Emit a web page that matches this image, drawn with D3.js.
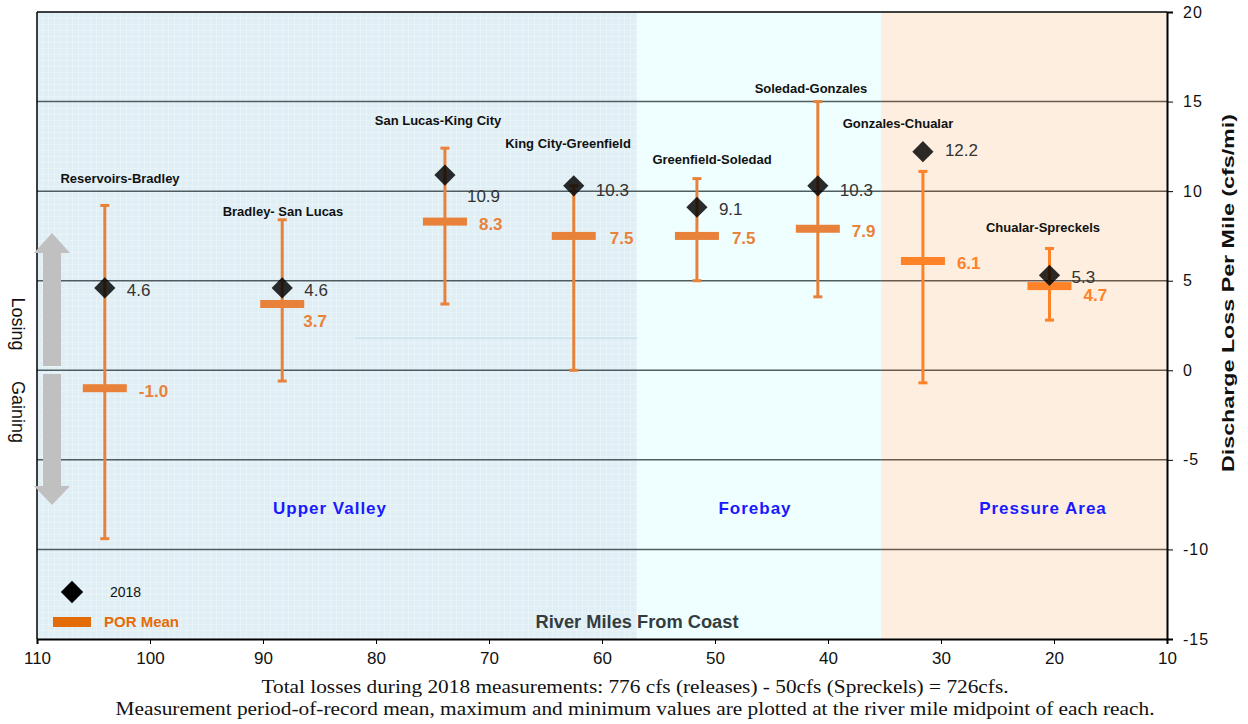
<!DOCTYPE html>
<html lang="en">
<head>
<meta charset="utf-8">
<script src="https://cdn.jsdelivr.net/npm/d3@7"></script>
<style>
  body{ margin:0; background:#fff; }
  svg{ display:block; }
  text{ font-family: Arial, "Liberation Sans", sans-serif; }
</style>
</head>
<body>
<svg id="chart"></svg>
<script>
// reaches, midpoints in river miles
var reaches = ["Reservoirs-Bradley","Bradley- San Lucas","San Lucas-King City","King City-Greenfield",
               "Greenfield-Soledad","Soledad-Gonzales","Gonzales-Chualar","Chualar-Spreckels"];
var riverMile = [104.0, 88.3, 73.9, 62.5, 51.6, 40.9, 31.6, 20.4];
var val2018 = [4.6, 4.6, 10.9, 10.3, 9.1, 10.3, 12.2, 5.3];
var porMean = [-1.0, 3.7, 8.3, 7.5, 7.5, 7.9, 6.1, 4.7];
var porMax  = [9.2, 8.4, 12.4, 10.3, 10.7, 15.0, 11.1, 6.8];
var porMin  = [-9.4, -0.6, 3.7, 0.0, 5.0, 4.1, -0.7, 2.8];

var regionNames = ["Upper Valley","Forebay","Pressure Area"];
var regionStart = [110, 56.9, 35.3];
var regionEnd   = [56.9, 35.3, 10];

var xTicks = [110,100,90,80,70,60,50,40,30,20,10];
var yTicks = [20,15,10,5,0,-5,-10,-15];

// label layout (pixels)
var nameX = [120, 283, 438, 568, 712, 811, 898, 1043];
var nameY = [178, 211, 120, 143, 159, 88, 123, 227];
var v18dy = [2, 2, 21, 4, 2, 4, -2, 2];
var meanDx = [34, 21, 34, 36, 35, 34, 34, 34];
var meanDy = [3, 17, 2, 2, 2, 2, 2, 9];

var W = 1248, H = 724;
var svg = d3.select('#chart').attr('width', W).attr('height', H);

var x = d3.scaleLinear().domain([110,10]).range([37,1167]);
var y = d3.scaleLinear().domain([-15,20]).range([639,12]);

var regionFill = ["#e0eff5","#effefe","#fdeee0"];
var orange = ["#e8823a","#e8823a","#fd8228"];
var gridCol = ["#4f5d62","#4f5d62","#6b5a4f"];
function regionOf(m){
  for(var i=0;i<regionStart.length;i++){ if(m<=regionStart[i] && m>regionEnd[i]) return i; }
  return 0;
}

// texture
var defs = svg.append('defs');
var pat = defs.append('pattern').attr('id','tex').attr('width',6).attr('height',6)
  .attr('patternUnits','userSpaceOnUse');
pat.append('path').attr('d','M0 0.5H6M0.5 0V6').attr('stroke','#ffffff').attr('stroke-opacity',0.25).attr('stroke-width',1);

// backgrounds
regionNames.forEach(function(r,i){
  svg.append('rect')
    .attr('x', x(regionStart[i])).attr('y', y(20))
    .attr('width', x(regionEnd[i]) - x(regionStart[i]))
    .attr('height', y(-15) - y(20))
    .attr('fill', regionFill[i]);
});
svg.append('rect').attr('x', x(110)).attr('y', y(20))
  .attr('width', x(56.9)-x(110)).attr('height', y(-15)-y(20)).attr('fill','url(#tex)');

// faint line in upper valley
svg.append('line').attr('x1',355).attr('x2',x(56.9)).attr('y1',y(1.8)).attr('y2',y(1.8))
  .attr('stroke','#c6e0ea').attr('stroke-width',1.2);

// gridlines
yTicks.filter(function(t){ return t>-15 && t<20; }).forEach(function(t){
  regionNames.forEach(function(r,i){
    svg.append('line')
      .attr('x1', x(regionStart[i])).attr('x2', x(regionEnd[i]))
      .attr('y1', y(t)).attr('y2', y(t))
      .attr('stroke', gridCol[i]).attr('stroke-width', 1.5);
  });
});

// frame: left and top
svg.append('line').attr('x1',x(110)).attr('x2',x(110)).attr('y1',y(20)).attr('y2',y(-15))
  .attr('stroke','#000').attr('stroke-width',1.5);
svg.append('line').attr('x1',x(110)).attr('x2',x(10)).attr('y1',y(20)).attr('y2',y(20))
  .attr('stroke','#000').attr('stroke-width',1.5);

// axes
var xAxis = svg.append('g').attr('transform','translate(0,'+y(-15)+')')
  .call(d3.axisBottom(x).tickValues(xTicks).tickSize(5).tickPadding(8).tickFormat(d3.format('d')));
xAxis.select('.domain').attr('stroke','#000').attr('stroke-width',2);
xAxis.selectAll('text').attr('font-size',17).attr('fill','#111');

var yAxis = svg.append('g').attr('transform','translate('+x(10)+',0)')
  .call(d3.axisRight(y).tickValues(yTicks).tickSize(6).tickPadding(10)
    .tickFormat(function(d){ return String(d); }));
yAxis.select('.domain').attr('stroke','#000').attr('stroke-width',2);
yAxis.selectAll('text').attr('font-size',16).attr('fill','#111').attr('letter-spacing',1);

svg.append('text')
  .attr('transform','translate(1234,293) rotate(-90)')
  .attr('text-anchor','middle')
  .attr('font-size',16).attr('font-weight','bold').attr('fill','#111')
  .attr('textLength',358).attr('lengthAdjust','spacingAndGlyphs')
  .text('Discharge Loss Per Mile (cfs/mi)');

// region labels
var regionLabelX = [330, 755, 1043];
regionNames.forEach(function(r,i){
  svg.append('text').attr('x', regionLabelX[i]).attr('y', 514)
    .attr('text-anchor','middle').attr('font-size',17).attr('font-weight','bold')
    .attr('fill','#1a1aff').attr('letter-spacing',1).text(r);
});

svg.append('text').attr('x',637).attr('y',628).attr('text-anchor','middle')
  .attr('font-size',18).attr('font-weight','bold').attr('fill','#333c40')
  .attr('textLength',203).attr('lengthAdjust','spacingAndGlyphs')
  .text('River Miles From Coast');

// losing / gaining arrows
var arrowX = 52;
svg.append('path')
  .attr('d','M'+arrowX+' 233 L'+(arrowX+18)+' 253 L'+(arrowX+9)+' 253 L'+(arrowX+9)+' 366 L'+(arrowX-9)+' 366 L'+(arrowX-9)+' 253 L'+(arrowX-18)+' 253 Z')
  .attr('fill','#c0c0c0');
svg.append('path')
  .attr('d','M'+arrowX+' 505 L'+(arrowX+18)+' 486 L'+(arrowX+9)+' 486 L'+(arrowX+9)+' 374 L'+(arrowX-9)+' 374 L'+(arrowX-9)+' 486 L'+(arrowX-18)+' 486 Z')
  .attr('fill','#c0c0c0');
svg.append('text').attr('transform','translate(12,324) rotate(90)').attr('text-anchor','middle')
  .attr('font-size',18).attr('fill','#111').text('Losing');
svg.append('text').attr('transform','translate(12,412) rotate(90)').attr('text-anchor','middle')
  .attr('font-size',18).attr('fill','#111').text('Gaining');

// error bars
var pts = svg.append('g');
reaches.forEach(function(name,i){
  var cx = x(riverMile[i]);
  var rg = regionOf(riverMile[i]);
  var col = orange[rg];
  var g = pts.append('g');
  g.append('line').attr('x1',cx).attr('x2',cx).attr('y1',y(porMax[i])).attr('y2',y(porMin[i]))
    .attr('stroke',col).attr('stroke-width',3);
  [porMax[i], porMin[i]].forEach(function(v){
    g.append('rect').attr('x',cx-4.5).attr('y',y(v)-1.5).attr('width',9).attr('height',3).attr('fill',col);
  });
  g.append('rect').attr('x',cx-22).attr('y',y(porMean[i])-4).attr('width',44).attr('height',8).attr('fill',col);
  g.append('path').attr('d', d3.symbol().type(d3.symbolSquare).size(225)())
    .attr('transform','translate('+cx+','+y(val2018[i])+') rotate(45)')
    .attr('fill','#000').attr('fill-opacity',0.83);
  g.append('text').attr('x',cx+22).attr('y',y(val2018[i])+v18dy[i]).attr('dy','0.35em')
    .attr('font-size',17).attr('fill','#333').text(val2018[i].toFixed(1));
  g.append('text').attr('x',cx+meanDx[i]).attr('y',y(porMean[i])+meanDy[i]).attr('dy','0.35em')
    .attr('font-size',17).attr('font-weight','bold').attr('fill',col).text(porMean[i].toFixed(1));
  svg.append('text').attr('x',nameX[i]).attr('y',nameY[i]).attr('dy','0.35em').attr('text-anchor','middle')
    .attr('font-size',13).attr('font-weight','bold').attr('fill','#111').text(name);
});

// legend
svg.append('path').attr('d', d3.symbol().type(d3.symbolSquare).size(250)())
  .attr('transform','translate(72,592) rotate(45)').attr('fill','#000');
svg.append('text').attr('x',110).attr('y',592).attr('dy','0.35em').attr('font-size',14).attr('fill','#111').text('2018');
svg.append('rect').attr('x',53).attr('y',617).attr('width',38).attr('height',10).attr('fill','#e36c09');
svg.append('text').attr('x',104).attr('y',622).attr('dy','0.35em').attr('font-size',15).attr('font-weight','bold')
  .attr('fill','#e36c09').text('POR Mean');

// footnotes
var foot = ["Total losses during 2018 measurements: 776 cfs (releases) - 50cfs (Spreckels) = 726cfs.",
            "Measurement period-of-record mean, maximum and minimum values are plotted at the river mile midpoint of each reach."];
var footLen = [747, 1039];
foot.forEach(function(t,i){
  svg.append('text').attr('x',635).attr('y',693+i*22).attr('text-anchor','middle')
    .attr('font-size',19).attr('fill','#111')
    .attr('textLength',footLen[i]).attr('lengthAdjust','spacingAndGlyphs')
    .style('font-family','"Liberation Serif", "Times New Roman", serif').text(t);
});
</script>
</body>
</html>
